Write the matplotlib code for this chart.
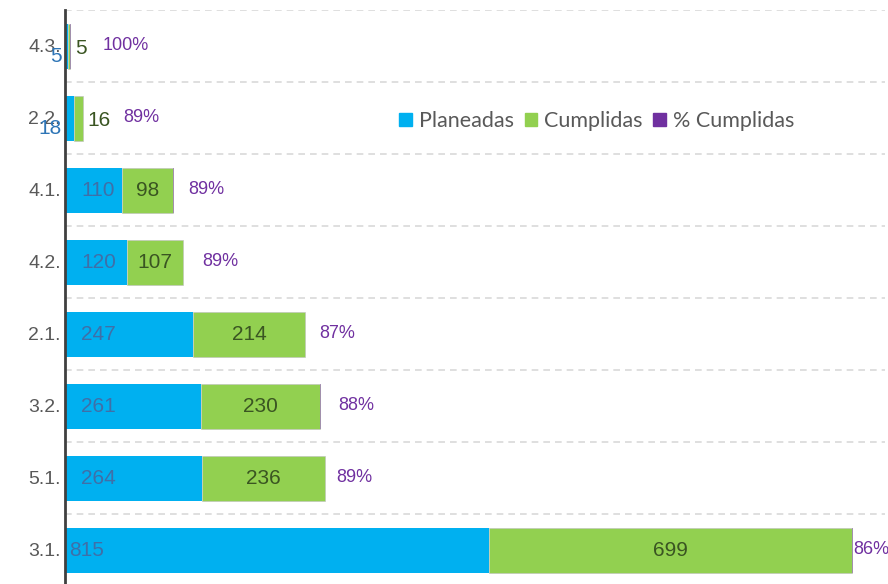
import matplotlib.pyplot as plt
import numpy as np

# data (bottom to top)
cats = ["3.1.", "5.1.", "3.2.", "2.1.", "4.2.", "4.1.", "2.2.", "4.3."]
planeadas = [815, 264, 261, 247, 120, 110, 18, 5]
cumplidas = [699, 236, 230, 214, 107, 98, 16, 5]
pct = [86, 89, 88, 87, 89, 89, 89, 100]

narrow = ['Liberation Sans', 'DejaVu Sans']
c_blue, c_green, c_purple = '#00B0F0', '#92D050', '#7030A0'

fig = plt.figure(figsize=(8.88, 5.84), dpi=100)
ax = fig.add_axes([65/888, -2/584, 820/888, 576/584])

y = np.arange(len(cats))
h = 0.625
ax.barh(y, planeadas, height=h, color=c_blue, zorder=3)
ax.barh(y, cumplidas, left=planeadas, height=h, color=c_green, edgecolor='#BFBFBF', linewidth=0.4, zorder=3)
left2 = np.array(planeadas) + np.array(cumplidas)
ax.barh(y, np.array(pct) / 100, left=left2, height=h, color=c_purple, alpha=0.4, zorder=3)

ax.set_xlim(0, 1577)
ax.set_ylim(-0.5, len(cats) - 0.5)
ax.set_yticks(y)
ax.set_yticklabels(cats, family=narrow, fontsize=14, color='#595959')
ax.tick_params(axis='y', length=0, pad=3)
ax.set_xticks([])
ax.set_yticks(np.arange(len(cats)) + 0.5, minor=True)
ax.tick_params(axis='y', which='minor', length=0)
ax.grid(axis='y', which='minor', color='#D9D9D9', linestyle=(0, (4, 3)), linewidth=1.2, zorder=0)
for s in ['top', 'right', 'bottom']:
    ax.spines[s].set_visible(False)
ax.spines['left'].set_color('#404040')
ax.spines['left'].set_linewidth(2)
ax.spines['left'].set_zorder(5)

# label offsets in pixels
pl_off = [4, 16, 16, 16, 16, 16]
pct_off = [1, 11, 18, 15, 19, 15, 41, 32]
for i in range(len(cats)):
    if planeadas[i] > 50:
        ax.annotate(str(planeadas[i]), (0, y[i]), xytext=(pl_off[i], 0), textcoords='offset pixels',
                    ha='left', va='center', fontsize=15, family=narrow, color='#3F6FA8', zorder=6)
        ax.text(planeadas[i] + cumplidas[i] / 2, y[i], str(cumplidas[i]), ha='center', va='center',
                fontsize=15, family=narrow, color='#3A5522', zorder=6)
    else:
        ax.annotate(str(planeadas[i]), (0, y[i]), xytext=(-3, -11), textcoords='offset pixels',
                    ha='right', va='center', fontsize=15, family=narrow, color='#2E75B6', zorder=6)
        ax.annotate(str(cumplidas[i]), (left2[i], y[i]), xytext=(5, -2), textcoords='offset pixels',
                    ha='left', va='center', fontsize=15, family=narrow, color='#3A5522', zorder=6)
    ax.annotate(f"{pct[i]}%", (left2[i], y[i]), xytext=(pct_off[i], 0), textcoords='offset pixels',
                ha='left', va='center', fontsize=13, family=narrow, color=c_purple, zorder=6)

handles = [plt.Rectangle((0, 0), 1, 1, color=c) for c in (c_blue, c_green, c_purple)]
fig.legend(handles, ['Planeadas', 'Cumplidas', '% Cumplidas'], loc='center left',
           bbox_to_anchor=(380/888, 1 - 121/584), ncol=3, frameon=False,
           handlelength=0.6, handleheight=0.6, handletextpad=0.3, columnspacing=0.5,
           prop={'family': 'Lato', 'size': 15.5}, labelcolor='#595959')

fig.savefig('out.png', dpi=100)
